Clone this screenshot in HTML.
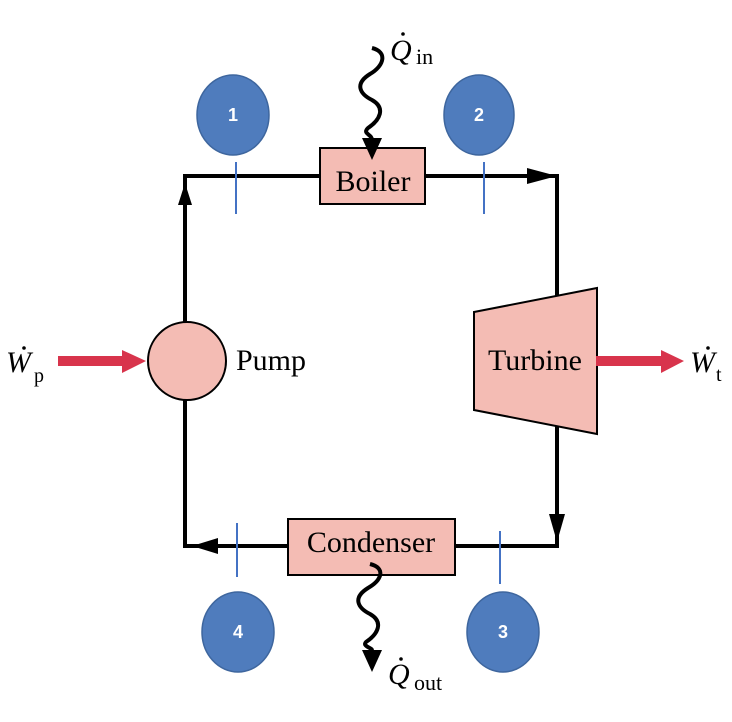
<!DOCTYPE html>
<html><head><style>
body{margin:0;background:#fff;}
svg{display:block;}
text{font-family:"Liberation Serif",serif;}
</style></head><body>
<svg width="732" height="722" viewBox="0 0 732 722" xmlns="http://www.w3.org/2000/svg">
<g stroke="#000" stroke-width="4" fill="none">
<path d="M185 322 V176 H320"/>
<path d="M425 176 H557 V530"/>
<path d="M557 530 V546 H455"/>
<path d="M288 546 H185 V400"/>
</g>
<polygon points="185,183 178,205 192,205" fill="#000"/>
<polygon points="557,176 527,168 527,184" fill="#000"/>
<polygon points="557,542 549,514 565,514" fill="#000"/>
<polygon points="192,546 218,538 218,554" fill="#000"/>
<g stroke="#4472c4" stroke-width="2">
<line x1="236" y1="162" x2="236" y2="214"/>
<line x1="484" y1="162" x2="484" y2="214"/>
<line x1="237" y1="523" x2="237" y2="577"/>
<line x1="500" y1="531" x2="500" y2="584"/>
</g>
<rect x="320" y="148" width="105" height="56" fill="#f4bcb4" stroke="#000" stroke-width="2"/>
<text x="373" y="191" font-size="30" text-anchor="middle">Boiler</text>
<rect x="288" y="519" width="167" height="56" fill="#f4bcb4" stroke="#000" stroke-width="2"/>
<text x="371" y="552" font-size="30" text-anchor="middle">Condenser</text>
<ellipse cx="187" cy="361" rx="39" ry="39" fill="#f4bcb4" stroke="#000" stroke-width="2"/>
<text x="236" y="370" font-size="30">Pump</text>
<polygon points="474,312 597,288 597,434 474,410" fill="#f4bcb4" stroke="#000" stroke-width="2"/>
<text x="535" y="370" font-size="30" text-anchor="middle">Turbine</text>
<polygon points="58,356 122,356 122,350 146,361 122,373 122,366 58,366" fill="#d8344c"/>
<polygon points="596,356 661,356 661,350 684,361 661,373 661,366 596,366" fill="#d8344c"/>
<path d="M372 48 C388 52,384 66,370 74 C354 84,360 94,372 100 C386 108,380 120,368 128 C362 134,372 134,372 140" stroke="#000" stroke-width="4" fill="none"/>
<polygon points="372,160 362,138 382,138" fill="#000"/>
<path d="M370 564 C386 568,382 580,368 588 C352 598,358 608,370 614 C384 622,378 634,366 642 C362 646,372 648,372 650" stroke="#000" stroke-width="4" fill="none"/>
<polygon points="372,672 362,650 382,650" fill="#000"/>
<text x="390" y="60" font-size="30" font-style="italic">Q</text>
<circle cx="403" cy="34" r="1.8" fill="#000"/>
<text x="416" y="64" font-size="22">in</text>
<text x="388" y="684" font-size="30" font-style="italic">Q</text>
<circle cx="401" cy="659" r="1.8" fill="#000"/>
<text x="414" y="690" font-size="22">out</text>
<text x="6" y="372" font-size="30" font-style="italic">W</text>
<circle cx="24" cy="348" r="1.8" fill="#000"/>
<text x="34" y="382" font-size="20">p</text>
<text x="690" y="372" font-size="30" font-style="italic">W</text>
<circle cx="708" cy="348" r="1.8" fill="#000"/>
<text x="716" y="381" font-size="20">t</text>
<g fill="#4f7cbd" stroke="#3e669e" stroke-width="1.5">
<ellipse cx="233" cy="115" rx="36" ry="40"/>
<ellipse cx="479" cy="115" rx="35" ry="40"/>
<ellipse cx="238" cy="632" rx="36" ry="40"/>
<ellipse cx="503" cy="632" rx="36" ry="40"/>
</g>
<g fill="#fff" font-size="18" font-weight="bold" text-anchor="middle">
<text x="233" y="121" style="font-family:'Liberation Sans',sans-serif">1</text>
<text x="479" y="121" style="font-family:'Liberation Sans',sans-serif">2</text>
<text x="238" y="638" style="font-family:'Liberation Sans',sans-serif">4</text>
<text x="503" y="638" style="font-family:'Liberation Sans',sans-serif">3</text>
</g>
</svg>
</body></html>
